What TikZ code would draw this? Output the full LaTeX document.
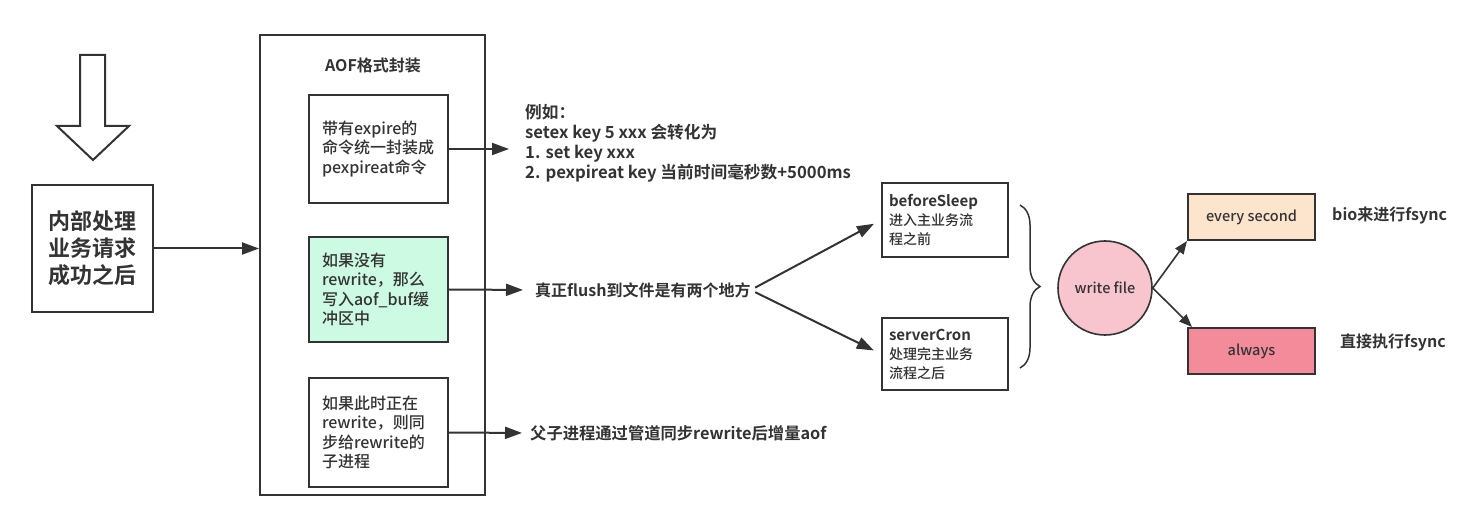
\documentclass[tikz,border=0pt]{standalone}
\usepackage{fontspec}
\setmainfont{Noto Sans CJK SC}[UprightFont={* Medium},BoldFont={* Bold}]
\usetikzlibrary{arrows.meta,decorations.pathreplacing}
\definecolor{ink}{HTML}{333333}
\definecolor{mint}{HTML}{CCFAE3}
\definecolor{peach}{HTML}{FDE4CC}
\definecolor{rose}{HTML}{F38B9B}
\definecolor{blush}{HTML}{F8C4CE}
\newcommand{\fsz}[2]{\fontsize{#1}{#2}\selectfont}

\begin{document}
\begin{tikzpicture}[x=1pt,y=-1pt,color=ink,
    arr/.style={-{Triangle[length=17pt,width=12pt]},line width=2pt},
    sarr/.style={-{Triangle[length=13pt,width=10pt]},line width=1.6pt},
    box/.style={draw=ink,line width=2pt,fill=white,inner sep=0pt},
    cmdbox/.style={box,minimum width=139pt,text width=113pt,inner xsep=13pt,align=left,font=\fsz{16}{19.5}},
    stagebox/.style={box,minimum width=126pt,text width=112pt,inner xsep=7pt,align=left,font=\fsz{14}{19}},
    modebox/.style={box,minimum width=127pt,minimum height=46pt,font=\fsz{14.5}{17}},
    note/.style={anchor=west,inner sep=0pt,align=left,font=\fsz{16}{20}\bfseries}]
    \useasboundingbox (0,0) rectangle (1480,521);
    \draw[line width=2pt,fill=white](80,55)--(105,55)--(105,126)--(129,126)--(93,160)--(57,126)--(80,126)--cycle;
    \node[box,minimum width=121pt,minimum height=127pt,align=center,font=\fsz{22}{27}\bfseries](req) at (92.5,248.5){内部处理\\业务请求\\成功之后};
    \node[box,minimum width=225pt,minimum height=460pt](aof) at (372.5,265){};
    \node[font=\fsz{16}{19}\bfseries](title) at (373,65){AOF格式封装};
    \node[cmdbox,minimum height=108pt](expire) at (378.5,149){带有expire的\\命令统一封装成\\pexpireat命令};
    \node[cmdbox,minimum height=105pt,fill=mint](buf) at (378.5,289.5){如果没有\\rewrite，那么\\写入aof\_buf缓\\冲区中};
    \node[cmdbox,minimum height=109pt](child) at (378.5,432.5){如果此时正在\\rewrite，则同\\步给rewrite的\\子进程};
    \draw[arr](req.east)--(req.east-|aof.west);
    \node[note,font=\fsz{16.7}{20}\bfseries](example) at (525,143){例如：\\setex key 5 xxx 会转化为\\1. set key xxx\\2. pexpireat key 当前时间毫秒数+5000ms};
    \coordinate(exin) at (509,149);
    \draw[arr](expire.east)--(exin);
    \node[note](flush) at (535,290){真正flush到文件是有两个地方};
    \draw[arr,shorten >=12pt](buf.east)--(flush.west);
    \node[note,font=\fsz{16.3}{18}\bfseries](pipe) at (530,433){父子进程通过管道同步rewrite后增量aof};
    \draw[arr,shorten >=8pt](child.east)--(pipe.west);
    \node[stagebox,minimum height=74pt](sleep) at (945,220){{\fsz{15}{19}\bfseries beforeSleep}\\进入主业务流\\程之前};
    \node[stagebox,minimum height=72pt](cron) at (945,354){{\fsz{15}{19}\bfseries serverCron}\\处理完主业务\\流程之后};
    \draw[arr,shorten <=5pt,shorten >=8pt](flush.east)--(sleep.west);
    \draw[arr,shorten <=5pt,shorten >=8pt](flush.east)--(cron.west);
    \draw[line width=1.5pt,decorate,decoration={brace,amplitude=20pt}](1020,205)--(1020,368);
    \node[circle,draw=ink,line width=1.6pt,fill=blush,minimum size=94pt,inner sep=0pt,font=\fsz{14.5}{17}](wf) at (1105,288){write file};
    \node[modebox,fill=peach](es) at (1251.5,217){every second};
    \node[modebox,fill=rose](al) at (1251.5,351){always};
    \draw[sarr](wf.east)--(es.south west);
    \draw[sarr](wf.east)--([xshift=5pt]al.north west);
    \node[note](bio) at (1332,215){bio来进行fsync};
    \node[note](direct) at (1340,342){直接执行fsync};
\end{tikzpicture}
\end{document}
